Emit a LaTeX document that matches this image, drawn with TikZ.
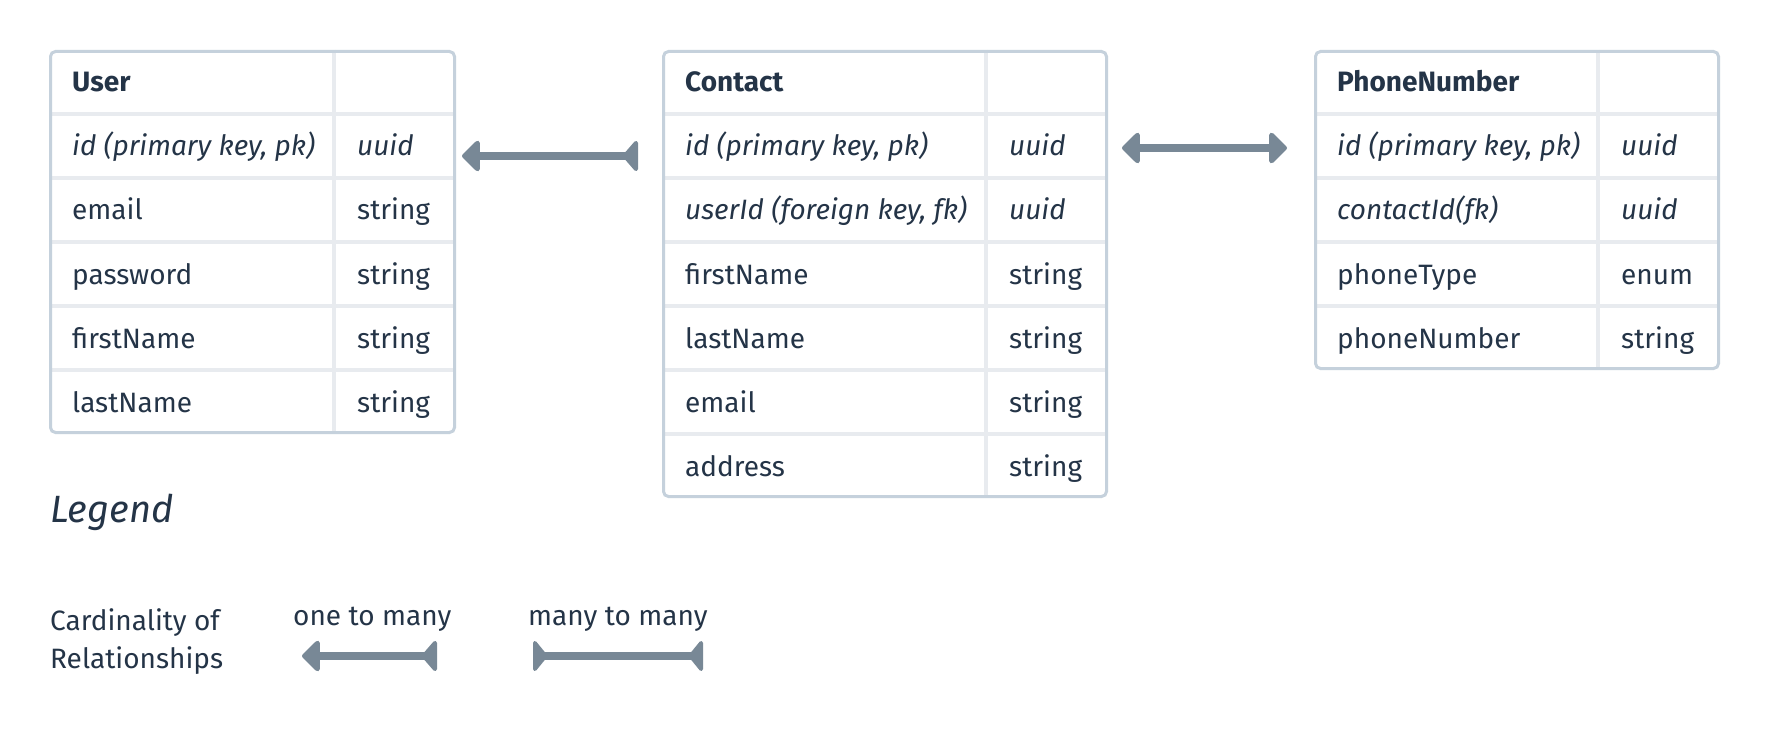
\documentclass[tikz,border=0pt]{standalone}
\usepackage{fontspec}
\setmainfont{Fira Sans}
\usetikzlibrary{arrows.meta}
\definecolor{txt}{HTML}{243447}
\definecolor{bord}{HTML}{C5D1DC}
\definecolor{gridc}{HTML}{E8EBEF}
\definecolor{arr}{HTML}{788896}
\tikzset{
  tbl/.style={draw=bord, line width=3pt, rounded corners=5pt, inner sep=0pt},
  gridline/.style={draw=gridc, line width=3.5pt},
  cell/.style={anchor=base west, inner sep=0pt, text=txt, font=\fontsize{28}{33}\selectfont},
  keycell/.style={cell, font=\fontsize{28}{33}\selectfont\itshape},
  headcell/.style={cell, font=\fontsize{28}{33}\selectfont\bfseries},
  legtitle/.style={anchor=base west, inner sep=0pt, text=txt, font=\fontsize{38}{44}\selectfont\itshape},
  legtext/.style={anchor=base west, inner sep=0pt, text=txt, font=\fontsize{28}{33}\selectfont},
  rel/.style={draw=arr, line width=8.5pt},
}
\begin{document}
\begin{tikzpicture}[x=1pt,y=-1pt]
\fill[white] (0,0) rectangle (1770,730);
\useasboundingbox (0,0) rectangle (1770,730);

% ---- User table
\draw[gridline] (334,50) -- (334,434);
\foreach \yy in {114,178,242,306,370} \draw[gridline] (49,\yy) -- (456,\yy);
\node[tbl, minimum width=404pt, minimum height=381pt] (user) at (252.5,242) {};
\node[headcell] (u0) at (72,92) {User};
\node[keycell] (u1) at (72,156) {id (primary key, pk)};
\node[keycell] (ut1) at (357,156) {uuid};
\node[cell] (u2) at (72,220) {email};
\node[cell] (ut2) at (357,220) {string};
\node[cell] (u3) at (72,284) {password};
\node[cell] (ut3) at (357,284) {string};
\node[cell] (u4) at (72,348) {firstName};
\node[cell] (ut4) at (357,348) {string};
\node[cell] (u5) at (72,412) {lastName};
\node[cell] (ut5) at (357,412) {string};

% ---- Contact table
\draw[gridline] (986,50) -- (986,498);
\foreach \yy in {114,178,242,306,370,434} \draw[gridline] (662,\yy) -- (1108,\yy);
\node[tbl, minimum width=443pt, minimum height=445pt] (contact) at (885,274) {};
\node[headcell] (c0) at (685,92) {Contact};
\node[keycell] (c1) at (685,156) {id (primary key, pk)};
\node[keycell] (ct1) at (1009,156) {uuid};
\node[keycell] (c2) at (685,220) {userId (foreign key, fk)};
\node[keycell] (ct2) at (1009,220) {uuid};
\node[cell] (c3) at (685,284) {firstName};
\node[cell] (ct3) at (1009,284) {string};
\node[cell] (c4) at (685,348) {lastName};
\node[cell] (ct4) at (1009,348) {string};
\node[cell] (c5) at (685,412) {email};
\node[cell] (ct5) at (1009,412) {string};
\node[cell] (c6) at (685,476) {address};
\node[cell] (ct6) at (1009,476) {string};

% ---- PhoneNumber table
\draw[gridline] (1598,50) -- (1598,370);
\foreach \yy in {114,178,242,306} \draw[gridline] (1314,\yy) -- (1720,\yy);
\node[tbl, minimum width=403pt, minimum height=317pt] (phone) at (1517,210) {};
\node[headcell] (p0) at (1337,92) {PhoneNumber};
\node[keycell] (p1) at (1337,156) {id (primary key, pk)};
\node[keycell] (pt1) at (1621,156) {uuid};
\node[keycell] (p2) at (1337,220) {contactId(fk)};
\node[keycell] (pt2) at (1621,220) {uuid};
\node[cell] (p3) at (1337,284) {phoneType};
\node[cell] (pt3) at (1621,284) {enum};
\node[cell] (p4) at (1337,348) {phoneNumber};
\node[cell] (pt4) at (1621,348) {string};

% ---- relationships
\draw[rel, {Triangle[reversed,length=16pt,width=36pt,round]}-{Triangle[length=19pt,width=36pt,round]},
      shorten <=24pt, shorten >=6pt]
  (contact.west |- c1.base) -- (user.east |- c1.base);
\draw[rel, {Triangle[length=19pt,width=36pt,round]}-{Triangle[length=19pt,width=36pt,round]},
      shorten <=14pt, shorten >=27pt]
  ([yshift=8pt]contact.east |- c1.base) -- ([yshift=8pt]phone.west |- c1.base);

% ---- legend
\node[legtitle] (legend) at (50,522) {Legend};
\node[legtext] (card1) at (50,630) {Cardinality of};
\node[legtext] (card2) at (50,668) {Relationships};
\node[legtext] (onemany) at (293,625) {one to many};
\node[legtext] (manymany) at (528,625) {many to many};
\coordinate (l1a) at (437,656);
\coordinate (l1b) at (302,656);
\coordinate (l2a) at (533,656);
\coordinate (l2b) at (703,656);
\draw[rel, {Triangle[reversed,length=16pt,width=36pt,round]}-{Triangle[length=19pt,width=36pt,round]}] (l1a) -- (l1b);
\draw[rel, {Triangle[reversed,length=15pt,width=36pt,round]}-{Triangle[reversed,length=15pt,width=36pt,round]}] (l2a) -- (l2b);
\end{tikzpicture}
\end{document}
